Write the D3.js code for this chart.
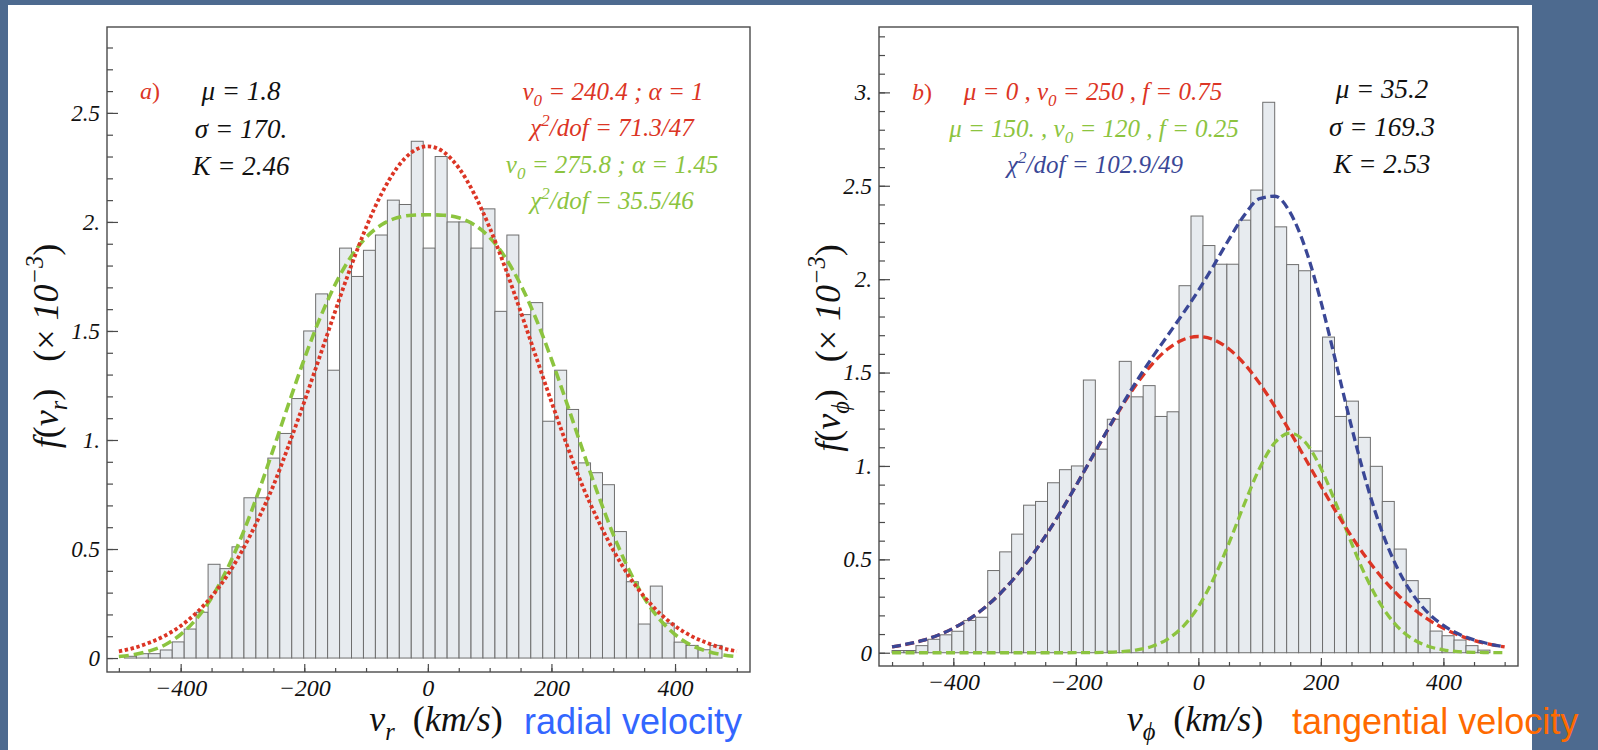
<!DOCTYPE html>
<html>
<head>
<meta charset="utf-8">
<script src="https://cdnjs.cloudflare.com/ajax/libs/d3/7.8.5/d3.min.js"></script>
<style>
	html, body { margin: 0; padding: 0; background: #4d6a8f; }
	#chart { width: 1598px; height: 750px; }
</style>
</head>
<body>
<div id="chart"></div>
<script>
'use strict'

// histogramme vitesse radiale (50 classes)
var radialBinStart = -491;
var radialBinWidth = 19.34;
var radialHist = [0.008, 0.02, 0.02, 0.037, 0.074, 0.133, 0.21, 0.43, 0.41, 0.51,
	0.735, 0.735, 0.917, 1.03, 1.19, 1.50, 1.67, 1.32, 1.88, 1.75,
	1.87, 1.94, 2.10, 2.08, 2.37, 1.88, 2.30, 2.00, 2.00, 1.88,
	2.06, 1.59, 1.94, 1.575, 1.63, 1.086, 1.32, 1.14, 0.895, 0.85,
	0.795, 0.58, 0.35, 0.156, 0.33, 0.16, 0.073, 0.058, 0.038, 0.058];

// histogramme vitesse tangentielle (50 classes)
var phiBinStart = -500;
var phiBinWidth = 19.52;
var phiHist = [0.012, 0.012, 0.038, 0.072, 0.096, 0.115, 0.173, 0.19, 0.44, 0.54,
	0.635, 0.79, 0.81, 0.91, 0.98, 1.00, 1.46, 1.09, 1.25, 1.56,
	1.37, 1.43, 1.265, 1.29, 1.965, 2.338, 2.18, 2.08, 2.08, 2.316,
	2.477, 2.947, 2.28, 2.078, 2.045, 1.08, 1.69, 1.265, 1.347, 1.153,
	0.998, 0.81, 0.555, 0.386, 0.29, 0.116, 0.091, 0.068, 0.038, 0.014];

// abscisses des courbes d'ajustement
var curveV = [-500, -475, -450, -425, -400, -375, -350, -325, -300, -275, -250,
	-225, -200, -175, -150, -125, -100, -75, -50, -25, 0,
	25, 50, 75, 100, 125, 150, 175, 200, 225, 250,
	275, 300, 325, 350, 375, 400, 425, 450, 475, 500];

// a) v0 = 240.4 ; alpha = 1
var radialRed = [0.031, 0.047, 0.071, 0.103, 0.147, 0.206, 0.282, 0.377, 0.495, 0.634, 0.791,
	0.977, 1.175, 1.382, 1.590, 1.791, 1.974, 2.129, 2.248, 2.322, 2.347,
	2.322, 2.248, 2.129, 1.974, 1.791, 1.590, 1.382, 1.175, 0.977, 0.791,
	0.634, 0.495, 0.377, 0.282, 0.206, 0.147, 0.103, 0.071, 0.047, 0.031];
// a) v0 = 275.8 ; alpha = 1.45
var radialGreen = [0.007, 0.016, 0.033, 0.061, 0.108, 0.178, 0.276, 0.407, 0.567, 0.754, 0.958,
	1.168, 1.371, 1.556, 1.713, 1.838, 1.929, 1.987, 2.019, 2.031, 2.033,
	2.031, 2.019, 1.987, 1.929, 1.838, 1.713, 1.556, 1.371, 1.168, 0.958,
	0.754, 0.567, 0.407, 0.276, 0.178, 0.108, 0.061, 0.033, 0.016, 0.007];

// b) composantes
var phiRed = [0.031, 0.046, 0.066, 0.094, 0.131, 0.178, 0.238, 0.312, 0.401, 0.505, 0.623,
	0.753, 0.893, 1.037, 1.181, 1.318, 1.442, 1.547, 1.626, 1.676, 1.693,
	1.676, 1.626, 1.547, 1.442, 1.318, 1.181, 1.037, 0.893, 0.753, 0.623,
	0.505, 0.401, 0.312, 0.238, 0.178, 0.131, 0.094, 0.066, 0.046, 0.031];
var phiGreen = [0, 0, 0, 0, 0, 0, 0, 0, 0, 0, 0,
	0, 0.0002, 0.0008, 0.0023, 0.0062, 0.0153, 0.0349, 0.0731, 0.1401, 0.2464,
	0.3971, 0.5869, 0.7954, 0.9881, 1.1255, 1.1754, 1.1255, 0.9881, 0.7954, 0.5869,
	0.3971, 0.2464, 0.1401, 0.0731, 0.0349, 0.0153, 0.0062, 0.0023, 0.0008, 0.0002];
var phiBlue = [0.031, 0.047, 0.066, 0.094, 0.131, 0.178, 0.238, 0.312, 0.401, 0.505, 0.623,
	0.753, 0.893, 1.038, 1.183, 1.324, 1.458, 1.582, 1.699, 1.816, 1.939,
	2.073, 2.213, 2.342, 2.431, 2.444, 2.356, 2.162, 1.881, 1.548, 1.210,
	0.902, 0.647, 0.452, 0.312, 0.213, 0.146, 0.100, 0.069, 0.047, 0.031];

// graduations
var xTicks = [-400, -200, 0, 200, 400];
var xLabels = ['\u2212400', '\u2212200', '0', '200', '400'];
var radialYTicks = [0, 0.5, 1, 1.5, 2, 2.5];
var radialYLabels = ['0', '0.5', '1.', '1.5', '2.', '2.5'];
var phiYTicks = [0, 0.5, 1, 1.5, 2, 2.5, 3];
var phiYLabels = ['0', '0.5', '1.', '1.5', '2.', '2.5', '3.'];

var RED = '#dc3525';
var GREEN = '#8cc43f';
var BLUE = '#3a4796';
var SERIF = "'Liberation Serif', 'DejaVu Serif', serif";

var svg = d3.select('#chart')
	.append('svg')
	.attr('width', 1598)
	.attr('height', 750);

svg.append('rect').attr('width', 1598).attr('height', 750).attr('fill', '#4d6a8f');
svg.append('rect').attr('x', 8).attr('y', 5).attr('width', 1524).attr('height', 745).attr('fill', '#ffffff');

// texte mathematique : parts = [texte, 'sub'|'sup'|'', 'up']
function mathText(g, x, y, parts, size, color, anchor){
	var t = g.append('text')
		.attr('x', x)
		.attr('y', y)
		.attr('text-anchor', anchor || 'middle')
		.style('font-family', SERIF)
		.style('font-style', 'italic')
		.style('font-size', size + 'px')
		.style('fill', color);
	var shift = 0;
	parts.forEach(function(p){
		var s = p[1] || '';
		var target = s === 'sub' ? size * 0.25 : (s === 'sup' ? -size * 0.42 : 0);
		var ts = t.append('tspan').attr('dy', target - shift).text(p[0]);
		if(s) ts.style('font-size', (size * 0.68) + 'px');
		if(p[2] === 'up') ts.style('font-style', 'normal');
		shift = target;
	});
	return t;
}

function generatePanel(p){
	var fr = p.frame;
	var x = d3.scaleLinear().domain(p.xDomain).range([fr.left, fr.right]);
	var y = d3.scaleLinear().domain(p.yDomain).range([fr.bottom, fr.top]);
	var g = svg.append('g');

	g.append('clipPath').attr('id', 'clip_' + p.id)
		.append('rect')
			.attr('x', fr.left).attr('y', fr.top)
			.attr('width', fr.right - fr.left).attr('height', fr.bottom - fr.top);

	// barres
	g.append('g')
		.selectAll('rect')
		.data(p.hist)
		.enter()
		.append('rect')
			.attr('x', function(d, i){ return x(p.binStart + i * p.binWidth); })
			.attr('width', function(d, i){ return x(p.binStart + (i + 1) * p.binWidth) - x(p.binStart + i * p.binWidth); })
			.attr('y', function(d){ return y(d); })
			.attr('height', function(d){ return y(0) - y(d); })
			.attr('fill', '#e7ebef')
			.attr('stroke', '#6e6e6e')
			.attr('stroke-width', 1);

	// courbes
	var line = d3.line()
		.x(function(d){ return x(d[0]); })
		.y(function(d){ return y(d[1]); })
		.curve(d3.curveMonotoneX);

	p.curves.forEach(function(c){
		g.append('path')
			.datum(curveV.map(function(v, i){ return [v, c.values[i]]; }))
			.attr('clip-path', 'url(#clip_' + p.id + ')')
			.attr('d', line)
			.attr('fill', 'none')
			.attr('stroke', c.color)
			.attr('stroke-width', c.width)
			.attr('stroke-dasharray', c.dash);
	});

	// cadre
	g.append('rect')
		.attr('x', fr.left).attr('y', fr.top)
		.attr('width', fr.right - fr.left).attr('height', fr.bottom - fr.top)
		.attr('fill', 'none')
		.attr('stroke', '#4a4a4a')
		.attr('stroke-width', 1.4);

	// axe y
	var yMinor = d3.range(0, Math.round(p.yMinorMax * 10) + 1).map(function(k){ return k / 10; });
	g.append('g')
		.attr('transform', 'translate(' + fr.left + ',0)')
		.call(d3.axisLeft(y).tickValues(yMinor).tickFormat('').tickSizeInner(-6).tickSizeOuter(0))
		.call(function(a){ a.select('.domain').remove(); });
	var ya = g.append('g')
		.attr('transform', 'translate(' + fr.left + ',0)')
		.call(d3.axisLeft(y)
			.tickValues(p.yTicks)
			.tickFormat(function(d, i){ return p.yLabels[i]; })
			.tickSizeInner(-11).tickSizeOuter(0).tickPadding(7));
	ya.select('.domain').remove();
	ya.selectAll('text').style('font-size', '23px');

	// axe x
	var xMinor = d3.range(-500, 501, 50);
	g.append('g')
		.attr('transform', 'translate(0,' + fr.bottom + ')')
		.call(d3.axisBottom(x).tickValues(xMinor).tickFormat('').tickSizeInner(-4).tickSizeOuter(0))
		.call(function(a){ a.select('.domain').remove(); });
	var xa = g.append('g')
		.attr('transform', 'translate(0,' + fr.bottom + ')')
		.call(d3.axisBottom(x)
			.tickValues(xTicks)
			.tickFormat(function(d, i){ return xLabels[i]; })
			.tickSizeInner(-8).tickSizeOuter(0).tickPadding(7));
	xa.select('.domain').remove();
	xa.selectAll('text').style('font-size', '24px');

	g.selectAll('.tick line').attr('stroke', '#4a4a4a').attr('stroke-width', 1.2);
	g.selectAll('.tick text')
		.style('font-family', SERIF)
		.style('font-style', 'italic')
		.style('fill', '#111');

	// titres des axes
	mathText(g, 0, 0, p.yTitle, 36, '#111')
		.attr('transform', 'translate(' + p.yTitlePos[0] + ',' + p.yTitlePos[1] + ') rotate(-90)');
	mathText(g, p.xTitlePos[0], p.xTitlePos[1], p.xTitle, 36, '#111');

	// annotations
	p.notes.forEach(function(n){
		mathText(g, n.x, n.y, n.parts, n.size, n.color, n.anchor);
	});
}

var NB = '\u00a0';

generatePanel({
	id: 'radial',
	frame: {left: 107, top: 27, right: 750, bottom: 672},
	xDomain: [-519.2, 521.3],
	yDomain: [-0.064, 2.894],
	hist: radialHist, binStart: radialBinStart, binWidth: radialBinWidth,
	yTicks: radialYTicks, yLabels: radialYLabels, yMinorMax: 2.8,
	curves: [
		{values: radialGreen, color: GREEN, width: 3.6, dash: '10,5'},
		{values: radialRed, color: RED, width: 3.8, dash: '3.4,2.6'}
	],
	yTitle: [['f', ''], ['(', '', 'up'], ['v', ''], ['r', 'sub'], [')' + NB + NB + NB + '(', '', 'up'], ['\u00d7', '', 'up'], [NB + '10', ''], ['\u22123', 'sup'], [')', '', 'up']],
	yTitlePos: [58, 346],
	xTitle: [['v', ''], ['r', 'sub'], [NB + NB + '(', '', 'up'], ['km/s', ''], [')', '', 'up']],
	xTitlePos: [436, 731],
	notes: [
		{x: 150, y: 99, parts: [['a', ''], [')', '', 'up']], size: 24, color: RED},
		{x: 241, y: 100, parts: [['\u03bc = 1.8', '']], size: 27, color: '#111'},
		{x: 241, y: 138, parts: [['\u03c3 = 170.', '']], size: 27, color: '#111'},
		{x: 241, y: 175, parts: [['K = 2.46', '']], size: 27, color: '#111'},
		{x: 613, y: 100, parts: [['v', ''], ['0', 'sub'], [' = 240.4 ; \u03b1 = 1', '']], size: 25, color: RED},
		{x: 612, y: 136, parts: [['\u03c7', ''], ['2', 'sup'], ['/dof = 71.3/47', '']], size: 25, color: RED},
		{x: 612, y: 173, parts: [['v', ''], ['0', 'sub'], [' = 275.8 ; \u03b1 = 1.45', '']], size: 25, color: GREEN},
		{x: 612, y: 209, parts: [['\u03c7', ''], ['2', 'sup'], ['/dof = 35.5/46', '']], size: 25, color: GREEN}
	]
});

generatePanel({
	id: 'phi',
	frame: {left: 879, top: 27, right: 1518, bottom: 666},
	xDomain: [-521.3, 521.8],
	yDomain: [-0.071, 3.35],
	hist: phiHist, binStart: phiBinStart, binWidth: phiBinWidth,
	yTicks: phiYTicks, yLabels: phiYLabels, yMinorMax: 3.3,
	curves: [
		{values: phiGreen, color: GREEN, width: 3.3, dash: '9,4.5'},
		{values: phiRed, color: RED, width: 3.3, dash: '9,4.5'},
		{values: phiBlue, color: BLUE, width: 3.3, dash: '9,4.5'}
	],
	yTitle: [['f', ''], ['(', '', 'up'], ['v', ''], ['\u03d5', 'sub'], [')' + NB + NB + NB + '(', '', 'up'], ['\u00d7', '', 'up'], [NB + '10', ''], ['\u22123', 'sup'], [')', '', 'up']],
	yTitlePos: [840, 348],
	xTitle: [['v', ''], ['\u03d5', 'sub'], [NB + NB + '(', '', 'up'], ['km/s', ''], [')', '', 'up']],
	xTitlePos: [1195, 731],
	notes: [
		{x: 922, y: 100, parts: [['b', ''], [')', '', 'up']], size: 24, color: RED},
		{x: 1093, y: 100, parts: [['\u03bc = 0 , v', ''], ['0', 'sub'], [' = 250 , f = 0.75', '']], size: 25, color: RED},
		{x: 1094, y: 137, parts: [['\u03bc = 150. , v', ''], ['0', 'sub'], [' = 120 , f = 0.25', '']], size: 25, color: GREEN},
		{x: 1095, y: 173, parts: [['\u03c7', ''], ['2', 'sup'], ['/dof = 102.9/49', '']], size: 25, color: BLUE},
		{x: 1382, y: 98, parts: [['\u03bc = 35.2', '']], size: 27, color: '#111'},
		{x: 1382, y: 136, parts: [['\u03c3 = 169.3', '']], size: 27, color: '#111'},
		{x: 1382, y: 173, parts: [['K = 2.53', '']], size: 27, color: '#111'}
	]
});

// legendes de couleur
svg.append('text')
	.attr('x', 524).attr('y', 734)
	.style('font-family', "'Liberation Sans', Arial, sans-serif")
	.style('font-size', '36px')
	.style('fill', '#3366ff')
	.text('radial velocity');

svg.append('text')
	.attr('x', 1292).attr('y', 734)
	.style('font-family', "'Liberation Sans', Arial, sans-serif")
	.style('font-size', '36px')
	.style('fill', '#ff6a00')
	.text('tangential velocity');
</script>
</body>
</html>
